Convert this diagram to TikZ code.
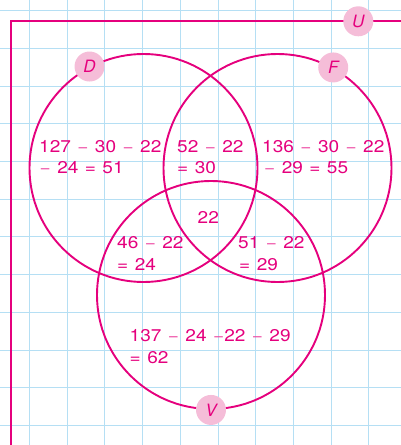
\documentclass[tikz,border=0pt]{standalone}
\usepackage{fontspec}
\setmainfont{TeX Gyre Heros}
\newfontfamily\countfont[FakeStretch=1.12]{TeX Gyre Heros}
\usetikzlibrary{positioning}
\definecolor{magenta}{HTML}{E5007D}
\definecolor{blush}{HTML}{F5BDD8}
\definecolor{gridblue}{HTML}{B5DFF4}
\newcommand{\mn}{\hspace{0.38em}{\color{magenta!70}−}\hspace{0.38em}}
\newcommand{\eq}{\hspace{0.38em}=\hspace{0.38em}}
\tikzset{
  %% grid paper
  gridline/.style  = {draw=gridblue, line width=1pt},
  %% sets
  frame/.style     = {draw=magenta, line width=2pt},
  setcirc/.style   = {circle, draw=magenta, line width=1.9pt, minimum size=228pt,
                      inner sep=0pt},
  setlbl/.style    = {circle, fill=blush, minimum size=30pt, inner sep=0pt,
                      text=magenta, font=\fontsize{17}{20}\selectfont\itshape},
  %% region counts
  count/.style     = {anchor=base west, align=left, inner sep=0pt, text=magenta,
                      font=\countfont\fontsize{17}{21.5}\selectfont},
}
\begin{document}
\begin{tikzpicture}[x=1pt, y=-1pt]
\useasboundingbox (0,0) rectangle (401,445);

%% grid paper
\foreach \i in {0,...,9}
  \draw[gridline] ({29.5+37.7*\i},0) -- ++(0,445);
\foreach \j in {0,...,11}
  \draw[gridline] (0,{10.7+37.7*\j}) -- ++(401,0);

%% universe
\coordinate (ucorner) at (10.7,21.3);
\draw[frame] (ucorner |- 0,445) -- (ucorner) -- (ucorner -| 401,0);

%% the three sets
\node[setcirc] (D) at (143.5,168) {};
\node[setcirc] (F) at (277.5,168) {};
\node[setcirc] (V) at (211,295) {};

%% set names
\node[setlbl] (ulbl) at (358.3,21.3) {U};
\node[setlbl] (dlbl) at (D.118.5) {D};
\node[setlbl] (flbl) at (F.61.5) {F};
\node[setlbl] (vlbl) at (V.south) {V};

%% counts (anchored on the last line)
\node[count] (donly)  at (39,173.5)  {127\mn 30\mn 22\\\hspace{0.5pt}{\color{magenta!70}−}\hspace{0.38em}24\eq 51};
\node[count] (df)     at (177,173.5) {52\mn 22\\=\hspace{0.38em}30};
\node[count] (fonly)  at (262,173.5) {136\mn 30\mn 22\\\hspace{2pt}{\color{magenta!70}−}\hspace{0.38em}29\eq 55};
\node[count] (dfv)    at (197.5,223.5) {22};
\node[count] (dv)     at (117,270)   {46\mn 22\\=\hspace{0.38em}24};
\node[count] (fv)     at (238,270)   {51\mn 22\\\hspace{1pt}=\hspace{0.38em}29};
\node[count] (vonly)  at (129.5,363) {137\mn 24\hspace{0.38em}{\color{magenta!70}−}22\mn 29\\=\hspace{0.38em}62};

\end{tikzpicture}
\end{document}
